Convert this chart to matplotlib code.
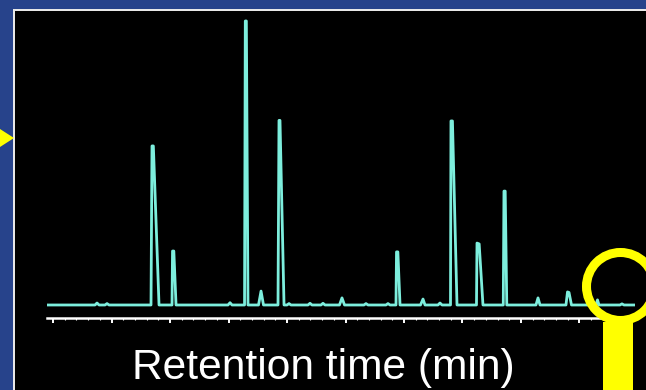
import matplotlib
matplotlib.use("Agg")
import matplotlib.pyplot as plt
from matplotlib.patches import Rectangle, Circle, Polygon

# chromatogram trace (time in min, relative intensity)
time_min = [
    -0.10, 0.718, 0.752, 0.786, 0.889, 0.923, 0.957,
    1.675, 1.692, 1.715, 1.812,
    2.034, 2.043, 2.065, 2.103,
    2.991, 3.026, 3.060,
    3.274, 3.287, 3.305, 3.333,
    3.513, 3.556, 3.598,
    3.846, 3.863, 3.880, 3.949,
    4.000, 4.034, 4.068,
    4.359, 4.393, 4.427,
    4.581, 4.615, 4.650,
    4.897, 4.940, 4.983,
    5.316, 5.350, 5.385,
    5.692, 5.726, 5.761,
    5.863, 5.872, 5.895, 5.932,
    6.282, 6.325, 6.359,
    6.581, 6.615, 6.650,
    6.795, 6.803, 6.828, 6.906,
    7.239, 7.248, 7.285, 7.350,
    7.697, 7.709, 7.730, 7.757,
    8.256, 8.291, 8.325,
    8.769, 8.795, 8.821, 8.863,
    9.282, 9.308, 9.333,
    9.692, 9.726, 9.761, 9.95,
]
intensity = [
    0, 0, 0.7, 0, 0, 0.5, 0,
    0, 56, 56, 0,
    0, 19, 19, 0,
    0, 0.8, 0,
    0, 100, 100, 0,
    0, 4.9, 0,
    0, 65, 65, 0,
    0, 0.5, 0,
    0, 0.6, 0,
    0, 0.6, 0,
    0, 2.5, 0,
    0, 0.5, 0,
    0, 0.5, 0,
    0, 18.7, 18.7, 0,
    0, 2.1, 0,
    0, 0.7, 0,
    0, 64.8, 64.8, 0,
    0, 21.8, 21.5, 0,
    0, 40.1, 40.1, 0,
    0, 2.5, 0,
    0, 4.6, 4.4, 0,
    0, 1.8, 0,
    0, 0.4, 0, 0,
]
major_ticks = [0, 1, 2, 3, 4, 5, 6, 7, 8, 9]
x_label = "Retention time (min)"

blue = "#27438B"
cyan = "#7DEEDD"
yellow = "#FFFF00"

W, H = 646, 390
fig = plt.figure(figsize=(W / 100, H / 100), dpi=100, facecolor=blue)

# white frame line and black panel
fig.patches.append(Rectangle((13 / W, 0), 1, (H - 9) / H, transform=fig.transFigure,
                             facecolor="#E8E8E8", edgecolor="none", zorder=-2))
fig.patches.append(Rectangle((15 / W, 0), 1, (H - 11) / H, transform=fig.transFigure,
                             facecolor="black", edgecolor="none", zorder=-1))

ax = fig.add_axes([47 / W, (H - 318) / H, (635 - 47) / W, (318 - 15) / H])
ax.set_facecolor("none")
ax.plot(time_min, intensity, color=cyan, lw=2.0)
ax.set_xlim(-0.103, 9.949)
ax.set_ylim(-4.58, 102.1)

for s in ["top", "right", "left"]:
    ax.spines[s].set_visible(False)
ax.spines["bottom"].set_color("white")
ax.spines["bottom"].set_linewidth(1.8)
ax.set_xticks(major_ticks)
ax.set_xticks([t / 5 for t in range(0, 50)], minor=True)
ax.tick_params(axis="x", which="major", length=3.8, width=1.4, color="white",
               labelbottom=False)
ax.tick_params(axis="x", which="minor", length=1.2, width=0.8, color="white")
ax.set_yticks([])

fig.text(0.5, (H - 379) / H, x_label, ha="center", va="baseline", color="white",
         fontsize=30.6, family=["Liberation Sans", "DejaVu Sans"])

# yellow highlight marks
tr = fig.dpi_scale_trans
fig.patches.append(Rectangle((6.03, 0), 0.30, (H - 322) / 100, transform=tr,
                             facecolor=yellow, edgecolor="none", zorder=5))
fig.patches.append(Circle((6.205, (H - 286.5) / 100), 0.34, transform=tr,
                          facecolor="none", edgecolor=yellow, lw=6.5, zorder=6))
fig.patches.append(Polygon([(0, (H - 129) / 100), (0.14, (H - 138) / 100),
                            (0, (H - 147) / 100)], closed=True, transform=tr,
                           facecolor=yellow, edgecolor="none", zorder=5))

fig.savefig("out.png", dpi=100, facecolor=blue)
